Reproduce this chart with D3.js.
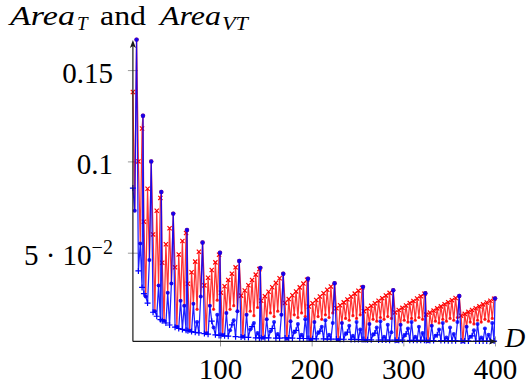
<!DOCTYPE html>
<html>
<head>
<meta charset="utf-8">
<script src="https://cdnjs.cloudflare.com/ajax/libs/d3/7.8.5/d3.min.js"></script>
<style>
  html, body { margin: 0; padding: 0; background: #fff; }
  svg { display: block; }
  svg text { font-family: "Liberation Serif", "DejaVu Serif", serif; fill: #000; }
</style>
</head>
<body>
<div class="canvas"></div>
<script>
// D values: every odd D from 5 to 399, plus the even squares
const oddD = d3.range(5, 400, 2);
const evenSquares = [16, 36, 64, 100, 144, 196, 256, 324, 400];
const dValues = oddD.concat(evenSquares).sort(d3.ascending);

// Area_T (red), one row per tooth, each row ends on the square k^2
const areaT = [
  0.138, 0.073, 0.1667,
  0.100, 0.055, 0.118, 0.125,
  0.067, 0.026, 0.085, 0.046, 0.100,
  0.060, 0.018, 0.073, 0.032, 0.080, 0.0833,
  0.0445, 0.0128, 0.0546, 0.028, 0.0634, 0.0332, 0.0714,
  0.042, 0.0095, 0.049, 0.0237, 0.0564, 0.021, 0.0608, 0.0625,
  0.033, 0.0073, 0.0393, 0.022, 0.0451, 0.019, 0.0505, 0.026, 0.0556,
  0.0321, 0.0059, 0.0363, 0.021, 0.0405, 0.019, 0.0447, 0.024, 0.0489, 0.05,
  0.0281, 0.0049, 0.0316, 0.017, 0.0351, 0.019, 0.0385, 0.021, 0.042, 0.018, 0.0455,
  0.0265, 0.004, 0.0293, 0.016, 0.0322, 0.018, 0.0351, 0.0155, 0.038, 0.02, 0.041, 0.0417,
  0.0237, 0.0034, 0.0262, 0.0135, 0.0286, 0.017, 0.0311, 0.015, 0.0335, 0.018, 0.036, 0.016, 0.0385,
  0.0225, 0.0029, 0.0246, 0.0125, 0.0267, 0.016, 0.0288, 0.0145, 0.031, 0.017, 0.0331, 0.015, 0.0352, 0.0357,
  0.0205, 0.0025, 0.0223, 0.012, 0.0241, 0.015, 0.026, 0.0135, 0.0278, 0.016, 0.0297, 0.0145, 0.0315, 0.017, 0.0333,
  0.0196, 0.0022, 0.0212, 0.0115, 0.0228, 0.014, 0.0244, 0.013, 0.026, 0.0155, 0.0276, 0.014, 0.0292, 0.016, 0.0308, 0.0313,
  0.018, 0.0019, 0.0194, 0.011, 0.0209, 0.0135, 0.0223, 0.0125, 0.0237, 0.0145, 0.0251, 0.0135, 0.0266, 0.015, 0.028, 0.014, 0.0294,
  0.0173, 0.0017, 0.0186, 0.0105, 0.0198, 0.013, 0.0211, 0.012, 0.0224, 0.014, 0.0236, 0.013, 0.0249, 0.0145, 0.0262, 0.0135, 0.0275, 0.0278,
  0.0161, 0.0015, 0.0172, 0.01, 0.0183, 0.0125, 0.0195, 0.0115, 0.0206, 0.0135, 0.0218, 0.0125, 0.0229, 0.014, 0.024, 0.013, 0.0252, 0.0145, 0.0263,
  0.0155, 0.0014, 0.0165, 0.0095, 0.0176, 0.012, 0.0186, 0.011, 0.0196, 0.013, 0.0206, 0.012, 0.0217, 0.0135, 0.0227, 0.0125, 0.0237, 0.014, 0.0248, 0.025
];

// Area_VT (blue), same layout
const areaVT = [
  0.0854, 0.073, 0.1667,
  0.040, 0.055, 0.031, 0.125,
  0.0276, 0.026, 0.0224, 0.046, 0.100,
  0.0174, 0.018, 0.0152, 0.032, 0.0134, 0.0833,
  0.0127, 0.0128, 0.0115, 0.028, 0.0104, 0.0332, 0.0714,
  0.0092, 0.0095, 0.0085, 0.0237, 0.008, 0.021, 0.0075, 0.0625,
  0.0072, 0.0073, 0.0068, 0.022, 0.0064, 0.012, 0.0061, 0.026, 0.0556,
  0.0057, 0.0059, 0.0054, 0.021, 0.0125, 0.009, 0.005, 0.016, 0.0047, 0.05,
  0.0047, 0.0049, 0.0045, 0.017, 0.0043, 0.0075, 0.0105, 0.013, 0.004, 0.018, 0.0455,
  0.0038, 0.004, 0.0037, 0.016, 0.0036, 0.008, 0.0095, 0.0115, 0.0034, 0.006, 0.0033, 0.0417,
  0.0034, 0.0034, 0.0034, 0.0135, 0.0033, 0.007, 0.0085, 0.012, 0.0032, 0.0055, 0.0032, 0.016, 0.0385,
  0.0033, 0.0029, 0.0033, 0.0125, 0.0032, 0.0065, 0.0075, 0.011, 0.0031, 0.005, 0.003, 0.0135, 0.003, 0.0357,
  0.003, 0.0025, 0.0029, 0.012, 0.0028, 0.006, 0.007, 0.0095, 0.0028, 0.013, 0.0027, 0.005, 0.0027, 0.0115, 0.0333,
  0.0027, 0.0022, 0.0026, 0.0115, 0.0026, 0.0055, 0.0065, 0.01, 0.0025, 0.0045, 0.0025, 0.012, 0.0024, 0.008, 0.0024, 0.0313,
  0.0024, 0.0019, 0.0023, 0.011, 0.0023, 0.005, 0.006, 0.009, 0.0022, 0.0125, 0.0022, 0.004, 0.0022, 0.0105, 0.0021, 0.0065, 0.0294,
  0.0021, 0.0017, 0.0021, 0.0105, 0.0021, 0.0045, 0.0055, 0.0085, 0.002, 0.012, 0.002, 0.004, 0.002, 0.0095, 0.002, 0.006, 0.002, 0.0278,
  0.0019, 0.0015, 0.0019, 0.01, 0.0019, 0.0045, 0.005, 0.008, 0.0019, 0.0115, 0.0019, 0.0035, 0.0018, 0.009, 0.0018, 0.0055, 0.0018, 0.012, 0.0263,
  0.0017, 0.0014, 0.0017, 0.0095, 0.0017, 0.004, 0.0045, 0.0075, 0.0016, 0.011, 0.0016, 0.0035, 0.0016, 0.0085, 0.0016, 0.005, 0.0016, 0.0115, 0.0016, 0.025
];

const xTicks = [100, 200, 300, 400];
const yTicks = [0.05, 0.1, 0.15];
const yTickLabels = ['5 · 10', '0.1', '0.15'];
const yTickExponents = ['−2', '', ''];

const width = 528;
const height = 392;

const svg = d3.select('.canvas').append('svg')
  .attr('width', width)
  .attr('height', height);

const x = d3.scaleLinear().domain([5, 400]).range([132.9, 495]);
const y = d3.scaleLinear().domain([0, 0.05]).range([344, 252.7]);
const yMin = d3.min(areaVT);
const axisY = y(yMin);

// mark kind: squares get dots, otherwise alternate high / low after each square
const isSquare = d => Number.isInteger(Math.sqrt(d));
let step = 0;
const points = dValues.map((d, i) => {
  let kind;
  if (isSquare(d)) { kind = 'sq'; step = 0; } else { kind = step % 2 === 0 ? 'hi' : 'lo'; step++; }
  return {d, t: areaT[i], vt: areaVT[i], kind};
});

// ****************** ticks ***************************
const xAxis = svg.append('g')
  .attr('transform', `translate(0, ${axisY})`)
  .call(d3.axisBottom(x).tickValues(xTicks).tickSize(5).tickPadding(0));
xAxis.attr('font-family', null);
xAxis.select('.domain').remove();
xAxis.selectAll('.tick line').attr('y1', -5).attr('y2', 5).attr('stroke', '#9a9a9a');
xAxis.selectAll('.tick text')
  .attr('y', 38).attr('dy', null)
  .attr('font-size', 29);

const yAxis = svg.append('g')
  .attr('transform', `translate(${x(5)}, 0)`)
  .call(d3.axisLeft(y).tickValues(yTicks).tickSize(5).tickFormat((d, i) => yTickLabels[i]));
yAxis.attr('font-family', null);
yAxis.select('.domain').remove();
yAxis.selectAll('.tick line').attr('x1', -5).attr('x2', 5).attr('stroke', '#9a9a9a');
yAxis.selectAll('.tick text')
  .attr('x', -20).attr('dy', null).attr('y', 12)
  .attr('font-size', 29)
  .each(function (d, i) {
    if (yTickExponents[i]) {
      d3.select(this).append('tspan')
        .attr('font-size', 20).attr('dy', -11)
        .text(yTickExponents[i]);
    }
  });

// ****************** series ***************************
const line = key => d3.line().x(p => x(p.d)).y(p => y(p[key]));
const crossPath = 'M-2.1,-2.1L2.1,2.1M-2.1,2.1L2.1,-2.1';
const plusPath = 'M-3,0L3,0M0,-3L0,3';

function drawSeries(key, color, opacity, markPath, dotR) {
  const g = svg.append('g');
  g.append('path')
    .datum(points)
    .attr('fill', 'none')
    .attr('stroke', color)
    .attr('stroke-width', 1.25)
    .attr('stroke-opacity', opacity)
    .attr('stroke-linejoin', 'round')
    .attr('d', line(key));

  g.selectAll('path.mark')
    .data(points.filter(p => p.kind === 'hi'))
    .enter().append('path')
    .attr('class', 'mark')
    .attr('transform', p => `translate(${x(p.d)}, ${y(p[key])})`)
    .attr('d', markPath)
    .attr('stroke', color)
    .attr('stroke-width', 1.2)
    .attr('fill', 'none');

  g.selectAll('circle')
    .data(points.filter(p => p.kind !== 'hi'))
    .enter().append('circle')
    .attr('cx', p => x(p.d))
    .attr('cy', p => y(p[key]))
    .attr('r', p => p.kind === 'sq' ? 2.2 : dotR)
    .attr('fill', color)
    .attr('fill-opacity', 0.85);
}

drawSeries('t', '#ff0000', 0.8, crossPath, 1.6);
drawSeries('vt', '#0000ff', 0.88, plusPath, 2.0);

// ****************** axis lines ***************************
const axes = svg.append('g').attr('stroke', '#1a1a1a').attr('stroke-width', 1.2);
axes.append('line')
  .attr('x1', x(5)).attr('y1', axisY).attr('x2', x(5)).attr('y2', 46);
axes.append('line')
  .attr('x1', x(5)).attr('y1', axisY).attr('x2', 492).attr('y2', axisY);
svg.append('path')
  .attr('d', `M${x(5)},40 L${x(5) - 3},48 L${x(5)},46 L${x(5) + 3},48 Z`)
  .attr('fill', '#1a1a1a');
svg.append('path')
  .attr('d', `M497,${axisY} L489,${axisY - 3} L491,${axisY} L489,${axisY + 3} Z`)
  .attr('fill', '#1a1a1a');

// ****************** labels ***************************
const label = (txt, px, py, size, italic, len) => {
  const t = svg.append('text')
    .attr('x', px).attr('y', py)
    .attr('font-size', size)
    .attr('font-style', italic ? 'italic' : 'normal')
    .text(txt);
  if (len) t.attr('textLength', len).attr('lengthAdjust', 'spacingAndGlyphs');
  return t;
};
label('Area', 10, 25, 27, true, 65);
label('T', 77, 30, 19, true);
label('and', 100, 25, 27, false, 46);
label('Area', 160, 25, 27, true, 61);
label('VT', 222, 30, 19, true, 26);

label('D', 505, 347, 28, true);
</script>
</body>
</html>
